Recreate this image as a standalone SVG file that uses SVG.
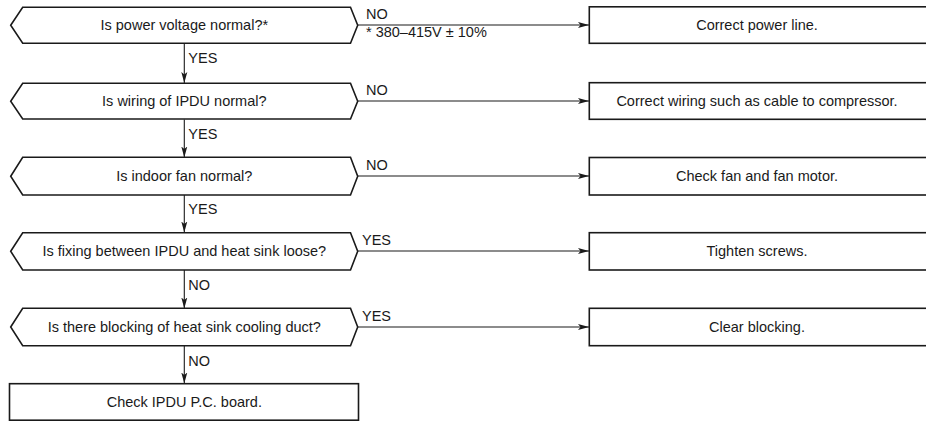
<svg xmlns="http://www.w3.org/2000/svg" width="926" height="422" viewBox="0 0 926 422">
<defs>
<style>
.shape{fill:#fff;stroke:#1a1a1a;stroke-width:1.6}
.ln{fill:none;stroke:#1a1a1a;stroke-width:1.1}
text{font-family:"Liberation Sans",Arial,sans-serif;font-size:14.5px;fill:#1a1a1a}
.c{text-anchor:middle}
</style>
<marker id="ah" markerWidth="12" markerHeight="8" refX="11" refY="4" orient="auto" markerUnits="userSpaceOnUse">
<path d="M0,1 L11,4 L0,7 L2.5,4 Z" fill="#1a1a1a"/>
</marker>
</defs>
<rect width="926" height="422" fill="#fff"/>
<g id="connectors">
<line class="ln" x1="358" y1="25" x2="589" y2="25" marker-end="url(#ah)"/>
<line class="ln" x1="358" y1="101" x2="589" y2="101" marker-end="url(#ah)"/>
<line class="ln" x1="358" y1="176" x2="589" y2="176" marker-end="url(#ah)"/>
<line class="ln" x1="358" y1="251" x2="589" y2="251" marker-end="url(#ah)"/>
<line class="ln" x1="358" y1="327" x2="589" y2="327" marker-end="url(#ah)"/>
<line class="ln" x1="184.3" y1="43.5" x2="184.3" y2="83" marker-end="url(#ah)"/>
<line class="ln" x1="184.3" y1="119.5" x2="184.3" y2="157.5" marker-end="url(#ah)"/>
<line class="ln" x1="184.3" y1="195" x2="184.3" y2="232.5" marker-end="url(#ah)"/>
<line class="ln" x1="184.3" y1="270" x2="184.3" y2="308.5" marker-end="url(#ah)"/>
<line class="ln" x1="184.3" y1="346" x2="184.3" y2="383.5" marker-end="url(#ah)"/>
<text x="366" y="18.5">NO</text>
<text x="366" y="36.5">* 380–415V ± 10%</text>
<text x="366" y="94.5">NO</text>
<text x="366" y="169.5">NO</text>
<text x="362" y="245">YES</text>
<text x="362" y="320.5">YES</text>
<text x="188.3" y="63.3">YES</text>
<text x="188.3" y="139">YES</text>
<text x="188.3" y="214">YES</text>
<text x="188.3" y="290">NO</text>
<text x="188.3" y="366">NO</text>
</g>
<g id="q1"><path class="shape" d="M10.7,25.3 L22.7,7.3 L350.5,7.3 L357.7,25.3 L350.5,43.3 L22.7,43.3 Z"/><text class="c" x="184.3" y="30.3">Is power voltage normal?*</text></g>
<g id="q2"><path class="shape" d="M10.7,101.2 L22.7,83.3 L350.5,83.3 L357.7,101.2 L350.5,119 L22.7,119 Z"/><text class="c" x="184.3" y="106">Is wiring of IPDU normal?</text></g>
<g id="q3"><path class="shape" d="M10.7,176.2 L22.7,157.3 L350.5,157.3 L357.7,176.2 L350.5,195 L22.7,195 Z"/><text class="c" x="184.3" y="181">Is indoor fan normal?</text></g>
<g id="q4"><path class="shape" d="M10.7,251.3 L22.7,232.7 L350.5,232.7 L357.7,251.3 L350.5,270 L22.7,270 Z"/><text class="c" x="184.3" y="256">Is fixing between IPDU and heat sink loose?</text></g>
<g id="q5"><path class="shape" d="M10.7,327 L22.7,308.3 L350.5,308.3 L357.7,327 L350.5,345.7 L22.7,345.7 Z"/><text class="c" x="184.3" y="331.8">Is there blocking of heat sink cooling duct?</text></g>
<g id="a1"><rect class="shape" x="589.3" y="6.8" width="340" height="36.5"/><text class="c" x="757" y="30.3">Correct power line.</text></g>
<g id="a2"><rect class="shape" x="589.3" y="82.7" width="340" height="36.6"/><text class="c" x="757" y="106">Correct wiring such as cable to compressor.</text></g>
<g id="a3"><rect class="shape" x="589.3" y="157.5" width="340" height="37.5"/><text class="c" x="757" y="181">Check fan and fan motor.</text></g>
<g id="a4"><rect class="shape" x="589.3" y="232.7" width="340" height="37.3"/><text class="c" x="757" y="256">Tighten screws.</text></g>
<g id="a5"><rect class="shape" x="589.3" y="308.3" width="340" height="37.4"/><text class="c" x="757" y="331.8">Clear blocking.</text></g>
<g id="end"><rect class="shape" x="9.5" y="383.7" width="349" height="36.5"/><text class="c" x="184.3" y="407">Check IPDU P.C. board.</text></g>
</svg>
